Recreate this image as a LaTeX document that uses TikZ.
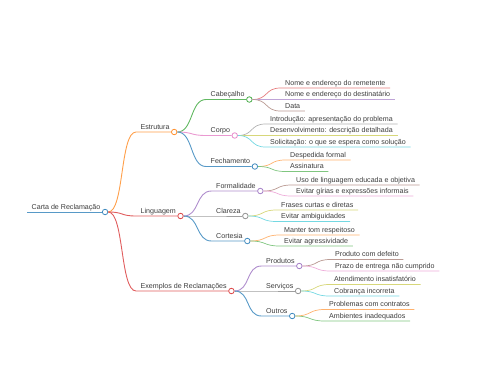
\documentclass[tikz,border=0pt]{standalone}
\usepackage{fontspec}
\setmainfont{Liberation Sans}
\definecolor{txt}{HTML}{3C3C3C}
\definecolor{cA}{HTML}{1F77B4}
\definecolor{cB}{HTML}{FF7F0E}
\definecolor{cC}{HTML}{2CA02C}
\definecolor{cD}{HTML}{D62728}
\definecolor{cE}{HTML}{9467BD}
\definecolor{cF}{HTML}{8C564B}
\definecolor{cG}{HTML}{E377C2}
\definecolor{cH}{HTML}{7F7F7F}
\definecolor{cI}{HTML}{BCBD22}
\definecolor{cJ}{HTML}{17BECF}
\tikzset{
  topic/.style={anchor=south west,inner xsep=4.5pt,inner ysep=1pt,text depth=1.8pt,text=txt,font=\fontsize{7.1}{8}\selectfont},
  knot/.style={circle,draw=#1!85,fill=white,line width=0.8pt,inner sep=0pt,minimum size=5.5pt},
  branch/.style={draw=#1!75,line width=0.9pt,out=0,in=180,out distance=16pt,in distance=16pt},
  twig/.style={draw=#1!60,line width=0.7pt,out=0,in=180,out distance=16pt,in distance=16pt},
}
\begin{document}
\begin{tikzpicture}[x=1pt,y=-1pt]
\path[use as bounding box] (0,0) rectangle (480,384);
% root
\node[topic] (root) at (27,212) {Carta de Reclamação};
\node[knot=cA] (root-k) at (root.south east) {};
\draw[branch=cA,line width=1pt] (root.south west) -- (root-k);
% first level
\node[topic] (est) at (136,132) {Estrutura};
\node[knot=cB] (est-k) at (est.south east) {};
\node[topic] (lin) at (136,216) {Linguagem};
\node[knot=cD] (lin-k) at (lin.south east) {};
\node[topic] (exe) at (136,291) {Exemplos de Reclamações};
\node[knot=cD] (exe-k) at (exe.south east) {};
\draw[branch=cB] (root-k) to (est.south west) -- (est-k);
\draw[branch=cD] (root-k) to (lin.south west) -- (lin-k);
\draw[branch=cD] (root-k) to (exe.south west) -- (exe-k);
% second level
\node[topic] (cab) at (206,99.5) {Cabeçalho};
\node[knot=cC] (cab-k) at (cab.south east) {};
\node[topic] (cor) at (206,135.5) {Corpo};
\node[knot=cG] (cor-k) at (cor.south east) {};
\node[topic] (fec) at (206,166.5) {Fechamento};
\node[knot=cA] (fec-k) at (fec.south east) {};
\draw[branch=cC] (est-k) to (cab.south west) -- (cab-k);
\draw[branch=cG] (est-k) to (cor.south west) -- (cor-k);
\draw[branch=cA] (est-k) to (fec.south west) -- (fec-k);
\node[topic] (fml) at (211.5,191) {Formalidade};
\node[knot=cE] (fml-k) at (fml.south east) {};
\node[topic] (cla) at (211.5,216) {Clareza};
\node[knot=cH] (cla-k) at (cla.south east) {};
\node[topic] (cts) at (211.5,241) {Cortesia};
\node[knot=cA] (cts-k) at (cts.south east) {};
\draw[branch=cE] (lin-k) to (fml.south west) -- (fml-k);
\draw[branch=cH] (lin-k) to (cla.south west) -- (cla-k);
\draw[branch=cA] (lin-k) to (cts.south west) -- (cts-k);
\node[topic] (pro) at (261.5,266) {Produtos};
\node[knot=cE] (pro-k) at (pro.south east) {};
\node[topic] (ser) at (261.5,291) {Serviços};
\node[knot=cH] (ser-k) at (ser.south east) {};
\node[topic] (otr) at (261.5,316) {Outros};
\node[knot=cA] (otr-k) at (otr.south east) {};
\draw[branch=cE] (exe-k) to (pro.south west) -- (pro-k);
\draw[branch=cH] (exe-k) to (ser.south west) -- (ser-k);
\draw[branch=cA] (exe-k) to (otr.south west) -- (otr-k);
% leaves
\node[topic] (cab1) at (280.5,88) {Nome e endereço do remetente};
\node[topic] (cab2) at (280.5,99.5) {Nome e endereço do destinatário};
\node[topic] (cab3) at (280.5,111) {Data};
\draw[twig=cD] (cab-k) to (cab1.south west) -- (cab1.south east);
\draw[twig=cE] (cab-k) to (cab2.south west) -- (cab2.south east);
\draw[twig=cF] (cab-k) to (cab3.south west) -- (cab3.south east);
\node[topic] (cor1) at (265.5,124) {Introdução: apresentação do problema};
\node[topic] (cor2) at (265.5,135.5) {Desenvolvimento: descrição detalhada};
\node[topic] (cor3) at (265.5,147) {Solicitação: o que se espera como solução};
\draw[twig=cH] (cor-k) to (cor1.south west) -- (cor1.south east);
\draw[twig=cI] (cor-k) to (cor2.south west) -- (cor2.south east);
\draw[twig=cJ] (cor-k) to (cor3.south west) -- (cor3.south east);
\node[topic] (fec1) at (285.5,160) {Despedida formal};
\node[topic] (fec2) at (285.5,171.5) {Assinatura};
\draw[twig=cB] (fec-k) to (fec1.south west) -- (fec1.south east);
\draw[twig=cC] (fec-k) to (fec2.south west) -- (fec2.south east);
\node[topic] (fml1) at (291.5,185) {Uso de linguagem educada e objetiva};
\node[topic] (fml2) at (291.5,196) {Evitar gírias e expressões informais};
\draw[twig=cF] (fml-k) to (fml1.south west) -- (fml1.south east);
\draw[twig=cG] (fml-k) to (fml2.south west) -- (fml2.south east);
\node[topic] (cla1) at (276.5,210) {Frases curtas e diretas};
\node[topic] (cla2) at (276.5,221.5) {Evitar ambiguidades};
\draw[twig=cI] (cla-k) to (cla1.south west) -- (cla1.south east);
\draw[twig=cJ] (cla-k) to (cla2.south west) -- (cla2.south east);
\node[topic] (cts1) at (279.5,235) {Manter tom respeitoso};
\node[topic] (cts2) at (279.5,246) {Evitar agressividade};
\draw[twig=cB] (cts-k) to (cts1.south west) -- (cts1.south east);
\draw[twig=cC] (cts-k) to (cts2.south west) -- (cts2.south east);
\node[topic] (pro1) at (330.5,259.5) {Produto com defeito};
\node[topic] (pro2) at (330.5,271) {Prazo de entrega não cumprido};
\draw[twig=cF] (pro-k) to (pro1.south west) -- (pro1.south east);
\draw[twig=cG] (pro-k) to (pro2.south west) -- (pro2.south east);
\node[topic] (ser1) at (329.5,284.5) {Atendimento insatisfatório};
\node[topic] (ser2) at (329.5,296) {Cobrança incorreta};
\draw[twig=cI] (ser-k) to (ser1.south west) -- (ser1.south east);
\draw[twig=cJ] (ser-k) to (ser2.south west) -- (ser2.south east);
\node[topic] (otr1) at (324.5,309.5) {Problemas com contratos};
\node[topic] (otr2) at (324.5,321) {Ambientes inadequados};
\draw[twig=cB] (otr-k) to (otr1.south west) -- (otr1.south east);
\draw[twig=cC] (otr-k) to (otr2.south west) -- (otr2.south east);
\end{tikzpicture}
\end{document}
